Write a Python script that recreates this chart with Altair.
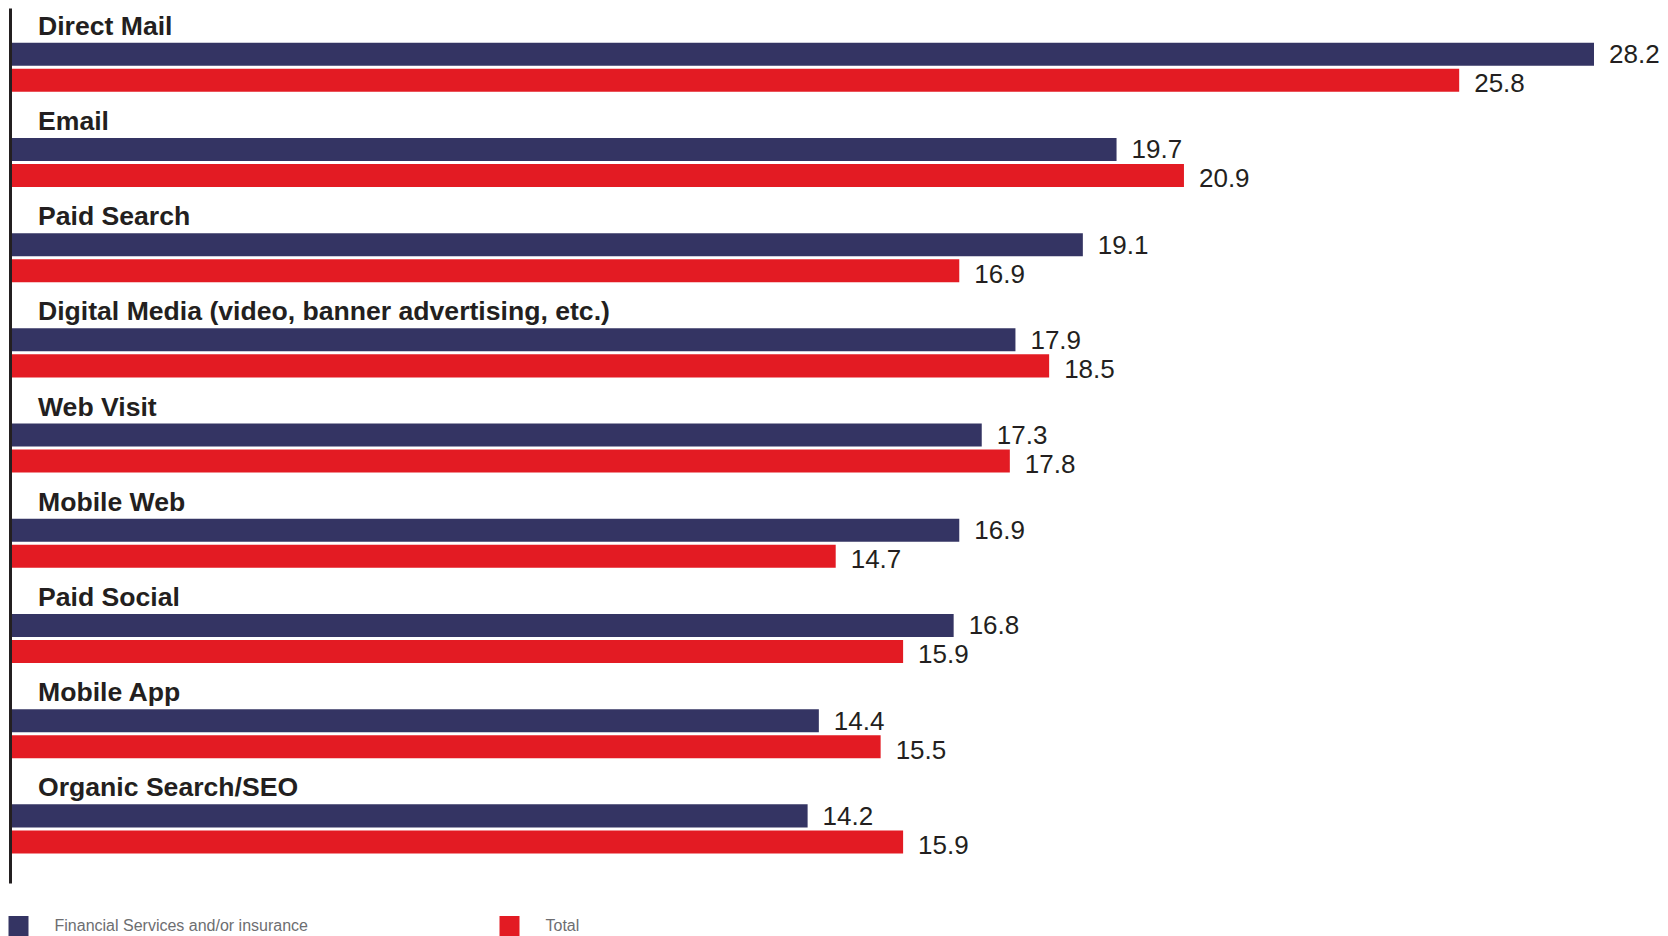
import altair as alt
import pandas as pd

categories = [
    "Direct Mail",
    "Email",
    "Paid Search",
    "Digital Media (video, banner advertising, etc.)",
    "Web Visit",
    "Mobile Web",
    "Paid Social",
    "Mobile App",
    "Organic Search/SEO",
]
fin_values = [28.2, 19.7, 19.1, 17.9, 17.3, 16.9, 16.8, 14.4, 14.2]
total_values = [25.8, 20.9, 16.9, 18.5, 17.8, 14.7, 15.9, 15.5, 15.9]
series = ["Financial Services and/or insurance", "Total"]
colors = ["#343463", "#e31b23"]

rows = []
for c, f, t in zip(categories, fin_values, total_values):
    rows.append({"cat": c, "series": series[0], "value": f})
    rows.append({"cat": c, "series": series[1], "value": t})
df = pd.DataFrame(rows)
cat_df = pd.DataFrame({"cat": categories})

yscale = alt.Scale(domain=categories, paddingInner=0.485, paddingOuter=0.338, align=0.54)
yaxis = alt.Axis(labels=False, ticks=False, domain=True, domainColor="#231f20",
                 domainWidth=3, grid=False, title=None, zindex=1)
xscale = alt.Scale(domain=[0, max(fin_values)], nice=False, zero=True)
yoff = alt.YOffset("series:N", scale=alt.Scale(domain=series, paddingInner=0.1154, paddingOuter=0))

color = alt.Color(
    "series:N",
    scale=alt.Scale(domain=series, range=colors),
    legend=alt.Legend(
        title=None, orient="none", legendX=-1.5, legendY=908, direction="horizontal",
        symbolType="square", symbolSize=400, symbolStrokeWidth=0, symbolOpacity=1,
        labelFontSize=16, labelFont="Liberation Sans", labelColor="#6d6e71",
        labelOffset=26, columnPadding=191, padding=0, labelLimit=0,
    ),
)

bars = alt.Chart(df).mark_bar(opacity=1).encode(
    x=alt.X("value:Q", scale=xscale, axis=None),
    y=alt.Y("cat:N", scale=yscale, axis=yaxis, sort=None),
    yOffset=yoff,
    color=color,
)


def value_layer(name, dy):
    return alt.Chart(df).transform_filter(
        alt.datum.series == name
    ).mark_text(
        align="left", baseline="middle", dx=15, dy=dy, font="Liberation Sans",
        fontSize=26, color="#231f20"
    ).encode(
        x=alt.X("value:Q", scale=xscale, axis=None),
        y=alt.Y("cat:N", scale=yscale, axis=yaxis, sort=None),
        yOffset=yoff,
        text=alt.Text("value:Q", format=".1f"),
    )


values_fin = value_layer(series[0], 1)
values_tot = value_layer(series[1], 4)

labels = alt.Chart(cat_df).mark_text(
    align="left", baseline="alphabetic", dx=28, dy=-8, font="Liberation Sans",
    fontSize=26.6, fontWeight="bold", color="#231f20"
).encode(
    x=alt.datum(0),
    y=alt.Y("cat:N", scale=yscale, axis=yaxis, sort=None, bandPosition=0),
    text="cat:N",
)

chart = alt.layer(bars, values_fin, values_tot, labels).properties(
    width=1584, height=875,
    padding={"left": 8, "top": 8, "right": 0, "bottom": 0},
    background="white",
).configure_view(stroke=None)

chart.save("out.html", embed_options={"renderer": "svg", "actions": False})
